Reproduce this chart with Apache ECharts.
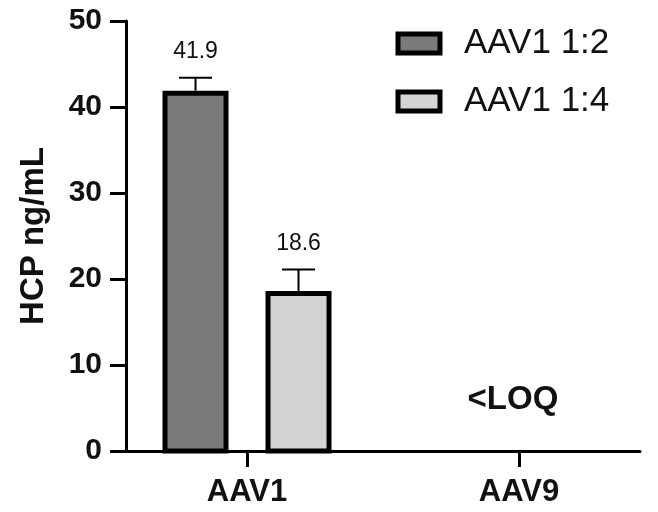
<!DOCTYPE html>
<html>
<head>
<meta charset="utf-8">
<script src="https://cdn.jsdelivr.net/npm/echarts@6/dist/echarts.min.js"></script>
<style>html,body{margin:0;padding:0;background:#fff}#c{width:658px;height:512px}</style>
</head>
<body>
<div id="c"></div>
<script>
var categories = ['AAV1', 'AAV9'];
var seriesNames = ['AAV1 1:2', 'AAV1 1:4'];
var values12 = [41.9, null];
var errors12 = [1.5, null];
var values14 = [18.6, null];
var errors14 = [2.5, null];
var valueLabels12 = ['41.9', null];
var valueLabels14 = ['18.6', null];
var loqCategory = 'AAV9';
var loqText = '<LOQ';
var yTicks = [0, 10, 20, 30, 40, 50];

var FONT = '"Liberation Sans", Arial, sans-serif';
var fills = ['#7a7a7a', '#d3d3d3'];
var BAR_W = 66, BAR_OFF = [-51.5, 51.5], BORDER = 5;

function buildData(vals, errs, labs) {
  var out = [];
  for (var i = 0; i < categories.length; i++) {
    if (vals[i] == null) continue;
    out.push([i + 1, vals[i], errs[i], labs[i]]);
  }
  return out;
}

function barRender(k) {
  return function (params, api) {
    var x = api.value(0), v = api.value(1), e = api.value(2);
    var lab = api.value(3);
    var pTop = api.coord([x, v]);
    var pBase = api.coord([x, 0]);
    var pErr = api.coord([x, v + e]);
    var cx = pTop[0] + BAR_OFF[k];
    var left = cx - BAR_W / 2;
    var h = BORDER / 2;
    return {
      type: 'group',
      children: [
        { type: 'line', shape: { x1: cx, y1: pTop[1], x2: cx, y2: pErr[1] }, style: { stroke: '#000', lineWidth: 2 } },
        { type: 'line', shape: { x1: cx - 16.5, y1: pErr[1], x2: cx + 16.5, y2: pErr[1] }, style: { stroke: '#000', lineWidth: 2 } },
        { type: 'rect', shape: { x: left + h, y: pTop[1] + h, width: BAR_W - BORDER, height: pBase[1] - pTop[1] - h },
          style: { fill: fills[k], stroke: '#000', lineWidth: BORDER } },
        { type: 'text', x: cx, y: pErr[1] - 26,
          style: { text: String(lab), fill: '#111', font: '23px ' + FONT, align: 'center', verticalAlign: 'middle' } }
      ]
    };
  };
}

var chart = echarts.init(document.getElementById('c'), null, { renderer: 'canvas' });
chart.setOption({
  animation: false,
  backgroundColor: '#fff',
  grid: { left: 126, right: 18, top: 21, bottom: 61, containLabel: false },
  legend: {
    orient: 'vertical', left: 395.5, top: 26, padding: 0,
    itemWidth: 42, itemHeight: 19, itemGap: 23,
    textStyle: { fontFamily: FONT, fontSize: 35, color: '#111', lineHeight: 35, padding: [0, 0, 0, 19] },
    data: [
      { name: seriesNames[0], icon: 'rect', itemStyle: { color: fills[0], borderColor: '#000', borderWidth: 5 } },
      { name: seriesNames[1], icon: 'rect', itemStyle: { color: fills[1], borderColor: '#000', borderWidth: 5 } }
    ]
  },
  xAxis: {
    type: 'value', min: 0.555, max: 2.445,
    axisLine: { show: true, onZero: false, lineStyle: { color: '#000', width: 3 } },
    axisTick: { show: true, customValues: [1, 2], length: 16, lineStyle: { color: '#000', width: 3 } },
    axisLabel: { customValues: [1, 2], formatter: function (v) { return categories[Math.round(v) - 1]; },
      fontFamily: FONT, fontWeight: 'bold', fontSize: 31, color: '#111', margin: 26 },
    splitLine: { show: false }
  },
  yAxis: {
    type: 'value', min: yTicks[0], max: yTicks[yTicks.length - 1], interval: 10,
    name: 'HCP ng/mL', nameLocation: 'middle', nameGap: 76,
    nameTextStyle: { fontFamily: FONT, fontWeight: 'bold', fontSize: 33, color: '#111' },
    axisLine: { show: true, lineStyle: { color: '#000', width: 3 } },
    axisTick: { show: true, length: 16, lineStyle: { color: '#000', width: 3 } },
    axisLabel: { fontFamily: FONT, fontWeight: 'bold', fontSize: 30, color: '#111', margin: 24 },
    splitLine: { show: false }
  },
  series: [
    { name: seriesNames[0], type: 'custom', itemStyle: { color: fills[0] }, renderItem: barRender(0),
      encode: { x: 0, y: 1 }, data: buildData(values12, errors12, valueLabels12), z: 3 },
    { name: seriesNames[1], type: 'custom', itemStyle: { color: fills[1] }, renderItem: barRender(1),
      encode: { x: 0, y: 1 }, data: buildData(values14, errors14, valueLabels14), z: 3 },
    { name: 'LOQ', type: 'custom', silent: true,
      data: [[categories.indexOf(loqCategory) + 1, 0]],
      encode: { x: 0, y: 1 },
      renderItem: function (params, api) {
        var p = api.coord([api.value(0), api.value(1)]);
        return { type: 'text', x: p[0] - 6, y: p[1] - 51,
          style: { text: loqText, fill: '#111', font: 'bold 33px ' + FONT, align: 'center', verticalAlign: 'middle' } };
      }
    }
  ]
});
</script>
</body>
</html>
